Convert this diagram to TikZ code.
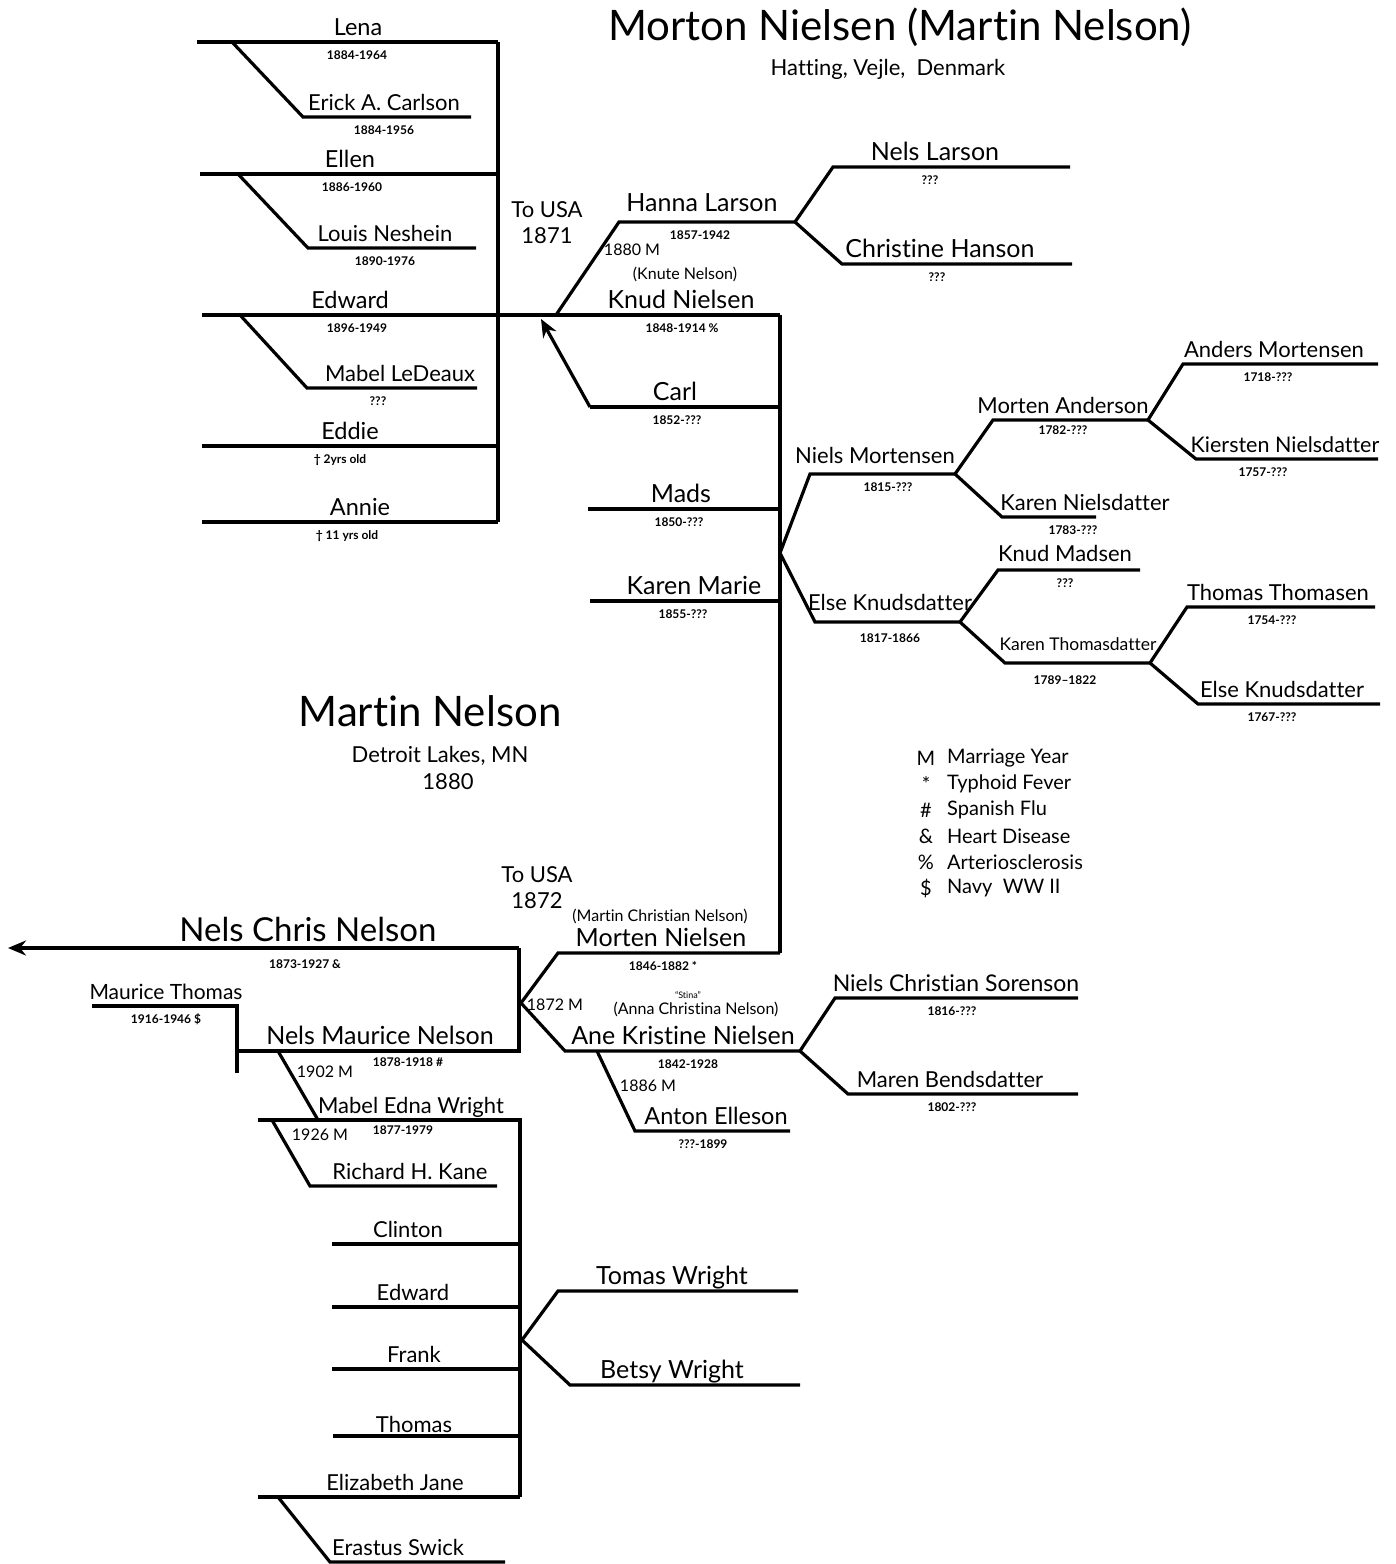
\documentclass[tikz,border=0pt]{standalone}
\usepackage{fontspec}
\setmainfont{Lato}[Ligatures={TeX,NoCommon}]
\usetikzlibrary{arrows.meta}

\tikzset{
  ln/.style={line width=3.2pt},
  tip/.style={-{Stealth[length=18pt,width=15pt]}},
  nm/.style={anchor=south, inner sep=1pt, text height=16pt, text depth=5pt, font=\fontsize{22}{24}\selectfont},
  bn/.style={nm, font=\fontsize{25}{27}\selectfont},
  kid/.style={nm, font=\fontsize{23.5}{26}\selectfont},
  dt/.style={anchor=north, inner sep=1pt, yshift=-7pt, text height=9pt, text depth=3pt, font=\fontsize{12}{14}\selectfont\bfseries},
  sm/.style={font=\fontsize{16}{18}\selectfont},
  big/.style={font=\fontsize{42}{46}\selectfont},
  place/.style={font=\fontsize{22}{26}\selectfont, align=center},
  lg/.style={anchor=west, inner sep=0pt, font=\fontsize{20}{22}\selectfont}
}

\begin{document}
\begin{tikzpicture}[x=1pt, y=-1pt]
  \useasboundingbox (0,0) rectangle (1396,1564);

  % headings
  \node[big] (title) at (900,27) {Morton Nielsen (Martin Nelson)};
  \node[place] (hatting) at (888,69) {Hatting, Vejle,\ \ Denmark};
  \node[big] (martin) at (430,711) {Martin Nelson};
  \node[place] (detroit) at (440,756) {Detroit Lakes, MN};
  \node[place] (y1880) at (448,782) {1880};

  % children of Knud
  \draw[ln] (197,42) -- (498,42);
  \draw[ln] (232,42) -- (303,117) -- (471,117);
  \draw[ln] (200,174) -- (498,174);
  \draw[ln] (238,174) -- (308,248) -- (476,248);
  \draw[ln] (202,315) -- (780,315);
  \draw[ln] (240,315) -- (307,388) -- (477,388);
  \draw[ln] (202,446) -- (498,446);
  \draw[ln] (202,522) -- (498,522);
  \draw[ln] (498,42) -- (498,522);
  \node[kid] (lena) at (358,42) {Lena};
  \node[dt] (lenaD) at (357,42) {1884-1964};
  \node[nm] (erick) at (384,117) {Erick A. Carlson};
  \node[dt] (erickD) at (384,117) {1884-1956};
  \node[kid] (ellen) at (350,174) {Ellen};
  \node[dt] (ellenD) at (352,174) {1886-1960};
  \node[nm] (louis) at (385,248) {Louis Neshein};
  \node[dt] (louisD) at (385,248) {1890-1976};
  \node[kid] (edward) at (350,315) {Edward};
  \node[dt] (edwardD) at (357,315) {1896-1949};
  \node[nm] (mabelL) at (400,388) {Mabel LeDeaux};
  \node[dt] (mabelLD) at (378,388) {???};
  \node[kid] (eddie) at (350,446) {Eddie};
  \node[dt] (eddieD) at (340,446) {† 2yrs old};
  \node[kid] (annie) at (360,522) {Annie};
  \node[dt] (annieD) at (347,522) {† 11 yrs old};

  % Knud and Hanna
  \node[place] (usa1) at (547,223) {To USA\\1871};
  \draw[ln] (556,315) -- (619,222) -- (795,222);
  \draw[ln] (1070,167) -- (833,167) -- (795,222) -- (842,264) -- (1072,264);
  \draw[ln] (780,315) -- (780,953);
  \node[bn, yshift=4pt] (hanna) at (702,222) {Hanna Larson};
  \node[dt] (hannaD) at (700,222) {1857-1942};
  \node[sm] (m1880) at (632,250) {1880 M};
  \node[sm] (knute) at (685,274) {(Knute Nelson)};
  \node[bn] (knud) at (681,315) {Knud Nielsen};
  \node[dt] (knudD) at (682,315) {1848-1914 \%};
  \node[bn] (nelsL) at (935,167) {Nels Larson};
  \node[dt] (nelsLD) at (930,167) {???};
  \node[bn] (christine) at (940,264) {Christine Hanson};
  \node[dt] (christineD) at (937,264) {???};

  % siblings of Knud
  \draw[ln, tip] (590,407) -- (541,319);
  \draw[ln] (590,407) -- (780,407);
  \draw[ln] (588,509) -- (780,509);
  \draw[ln] (590,601) -- (780,601);
  \node[bn] (carl) at (675,407) {Carl};
  \node[dt] (carlD) at (677,407) {1852-???};
  \node[bn] (mads) at (681,509) {Mads};
  \node[dt] (madsD) at (679,509) {1850-???};
  \node[bn] (karenM) at (694,601) {Karen Marie};
  \node[dt] (karenMD) at (683,601) {1855-???};

  % ancestors
  \draw[ln] (955,474) -- (810,474) -- (780,553) -- (815,622) -- (960,622);
  \draw[ln] (1148,420) -- (993,420) -- (955,474) -- (1002,517) -- (1096,517);
  \draw[ln] (1378,364) -- (1183,364) -- (1148,420) -- (1196,459) -- (1378,459);
  \draw[ln] (1140,570) -- (998,570) -- (960,622) -- (1005,663) -- (1150,663);
  \draw[ln] (1375,607) -- (1187,607) -- (1150,663) -- (1198,704) -- (1380,704);
  \node[nm, yshift=4pt] (nielsM) at (875,474) {Niels Mortensen};
  \node[dt] (nielsMD) at (888,474) {1815-???};
  \node[nm] (mortenA) at (1063,420) {Morten Anderson};
  \node[dt, yshift=3pt] (mortenAD) at (1063,420) {1782-???};
  \node[nm] (karenN) at (1085,517) {Karen Nielsdatter};
  \node[dt] (karenND) at (1073,517) {1783-???};
  \node[nm] (anders) at (1274,364) {Anders Mortensen};
  \node[dt] (andersD) at (1268,364) {1718-???};
  \node[nm, font=\fontsize{21.5}{24}\selectfont] (kiersten) at (1285,459) {Kiersten Nielsdatter};
  \node[dt] (kierstenD) at (1263,459) {1757-???};
  \node[nm, yshift=5pt] (else1) at (890,622) {Else Knudsdatter};
  \node[dt, yshift=-3pt] (else1D) at (890,622) {1817-1866};
  \node[nm, yshift=2pt] (knudM) at (1065,570) {Knud Madsen};
  \node[dt] (knudMD) at (1065,570) {???};
  \node[nm, yshift=6pt, font=\fontsize{17.5}{20}\selectfont] (karenT) at (1078,663) {Karen Thomasdatter};
  \node[dt, yshift=-4pt] (karenTD) at (1065,663) {1789--1822};
  \node[nm] (thomasT) at (1278,607) {Thomas Thomasen};
  \node[dt] (thomasTD) at (1272,607) {1754-???};
  \node[nm] (else2) at (1282,704) {Else Knudsdatter};
  \node[dt] (else2D) at (1272,704) {1767-???};

  % legend
  \foreach \s/\t [count=\i from 0] in {M/Marriage Year, */Typhoid Fever, \#/Spanish Flu, \&/Heart Disease, \%/Arteriosclerosis, \$/Navy\ \ WW II}
    \node[lg] (leg\i) at (947,758+26*\i) {\t};
  \foreach \s [count=\i from 0] in {M,*,\#,\&,\%,\$}
    \node[font=\fontsize{20}{22}\selectfont] (sym\i) at (926,758+26*\i) {\s};

  % Morten and Ane
  \node[place] (usa2) at (537,888) {To USA\\1872};
  \draw[ln, tip] (519,948) -- (8,948);
  \draw[ln] (519,948) -- (519,1051) -- (237,1051);
  \draw[ln] (92,1006) -- (237,1006) -- (237,1073);
  \draw[ln] (780,953) -- (558,953) -- (521,1003) -- (565,1051) -- (800,1051);
  \draw[ln] (1078,998) -- (835,998) -- (800,1051) -- (848,1094) -- (1078,1094);
  \draw[ln] (597,1051) -- (635,1131) -- (790,1131);
  \node[font=\fontsize{33}{36}\selectfont, anchor=south, yshift=3pt] (nelsC) at (308,948) {Nels Chris Nelson};
  \node[dt, yshift=-3pt] (nelsCD) at (305,948) {1873-1927 \&};
  \node[nm, font=\fontsize{21}{23}\selectfont] (maurice) at (166,1006) {Maurice Thomas};
  \node[dt] (mauriceD) at (166,1006) {1916-1946 \$};
  \node[bn] (nelsM) at (380,1051) {Nels Maurice Nelson};
  \node[dt, yshift=2pt] (nelsMD) at (408,1051) {1878-1918 \#};
  \node[sm] (m1902) at (325,1072) {1902 M};
  \node[sm] (martinCN) at (660,916) {(Martin Christian Nelson)};
  \node[bn] (mortenN) at (661,953) {Morten Nielsen};
  \node[dt] (mortenND) at (663,953) {1846-1882 *};
  \node[sm] (m1872) at (555,1005) {1872 M};
  \node[font=\fontsize{9}{10}\selectfont] (stina) at (688,995) {``Stina''};
  \node[sm] (annaCN) at (696,1009) {(Anna Christina Nelson)};
  \node[bn] (ane) at (683,1051) {Ane Kristine Nielsen};
  \node[dt] (aneD) at (688,1051) {1842-1928};
  \node[nm, font=\fontsize{23}{25}\selectfont] (sorenson) at (956,998) {Niels Christian Sorenson};
  \node[dt] (sorensonD) at (952,998) {1816-???};
  \node[nm] (maren) at (950,1094) {Maren Bendsdatter};
  \node[dt] (marenD) at (952,1094) {1802-???};
  \node[sm] (m1886) at (648,1086) {1886 M};
  \node[kid] (anton) at (716,1131) {Anton Elleson};
  \node[dt] (antonD) at (703,1131) {???-1899};

  % children of Nels Maurice
  \draw[ln] (278,1051) -- (318,1120);
  \draw[ln] (258,1120) -- (520,1120) -- (520,1497);
  \draw[ln] (272,1120) -- (310,1186) -- (497,1186);
  \draw[ln] (332,1244) -- (520,1244);
  \draw[ln] (332,1307) -- (520,1307);
  \draw[ln] (332,1369) -- (520,1369);
  \draw[ln] (333,1436) -- (520,1436);
  \draw[ln] (258,1497) -- (520,1497);
  \draw[ln] (278,1497) -- (330,1562) -- (505,1562);
  \draw[ln] (798,1291) -- (558,1291) -- (522,1340) -- (570,1385) -- (800,1385);
  \node[nm] (mabelW) at (411,1120) {Mabel Edna Wright};
  \node[dt, yshift=3pt] (mabelWD) at (403,1120) {1877-1979};
  \node[sm] (m1926) at (320,1135) {1926 M};
  \node[nm] (richard) at (410,1186) {Richard H. Kane};
  \node[nm] (clinton) at (408,1244) {Clinton};
  \node[nm] (edward2) at (413,1307) {Edward};
  \node[nm] (frank) at (414,1369) {Frank};
  \node[nm, yshift=-3pt] (thomas) at (414,1436) {Thomas};
  \node[nm] (elizabeth) at (395,1497) {Elizabeth Jane};
  \node[nm] (erastus) at (398,1562) {Erastus Swick};
  \node[bn] (tomasW) at (672,1291) {Tomas Wright};
  \node[bn] (betsyW) at (672,1385) {Betsy Wright};
\end{tikzpicture}
\end{document}
